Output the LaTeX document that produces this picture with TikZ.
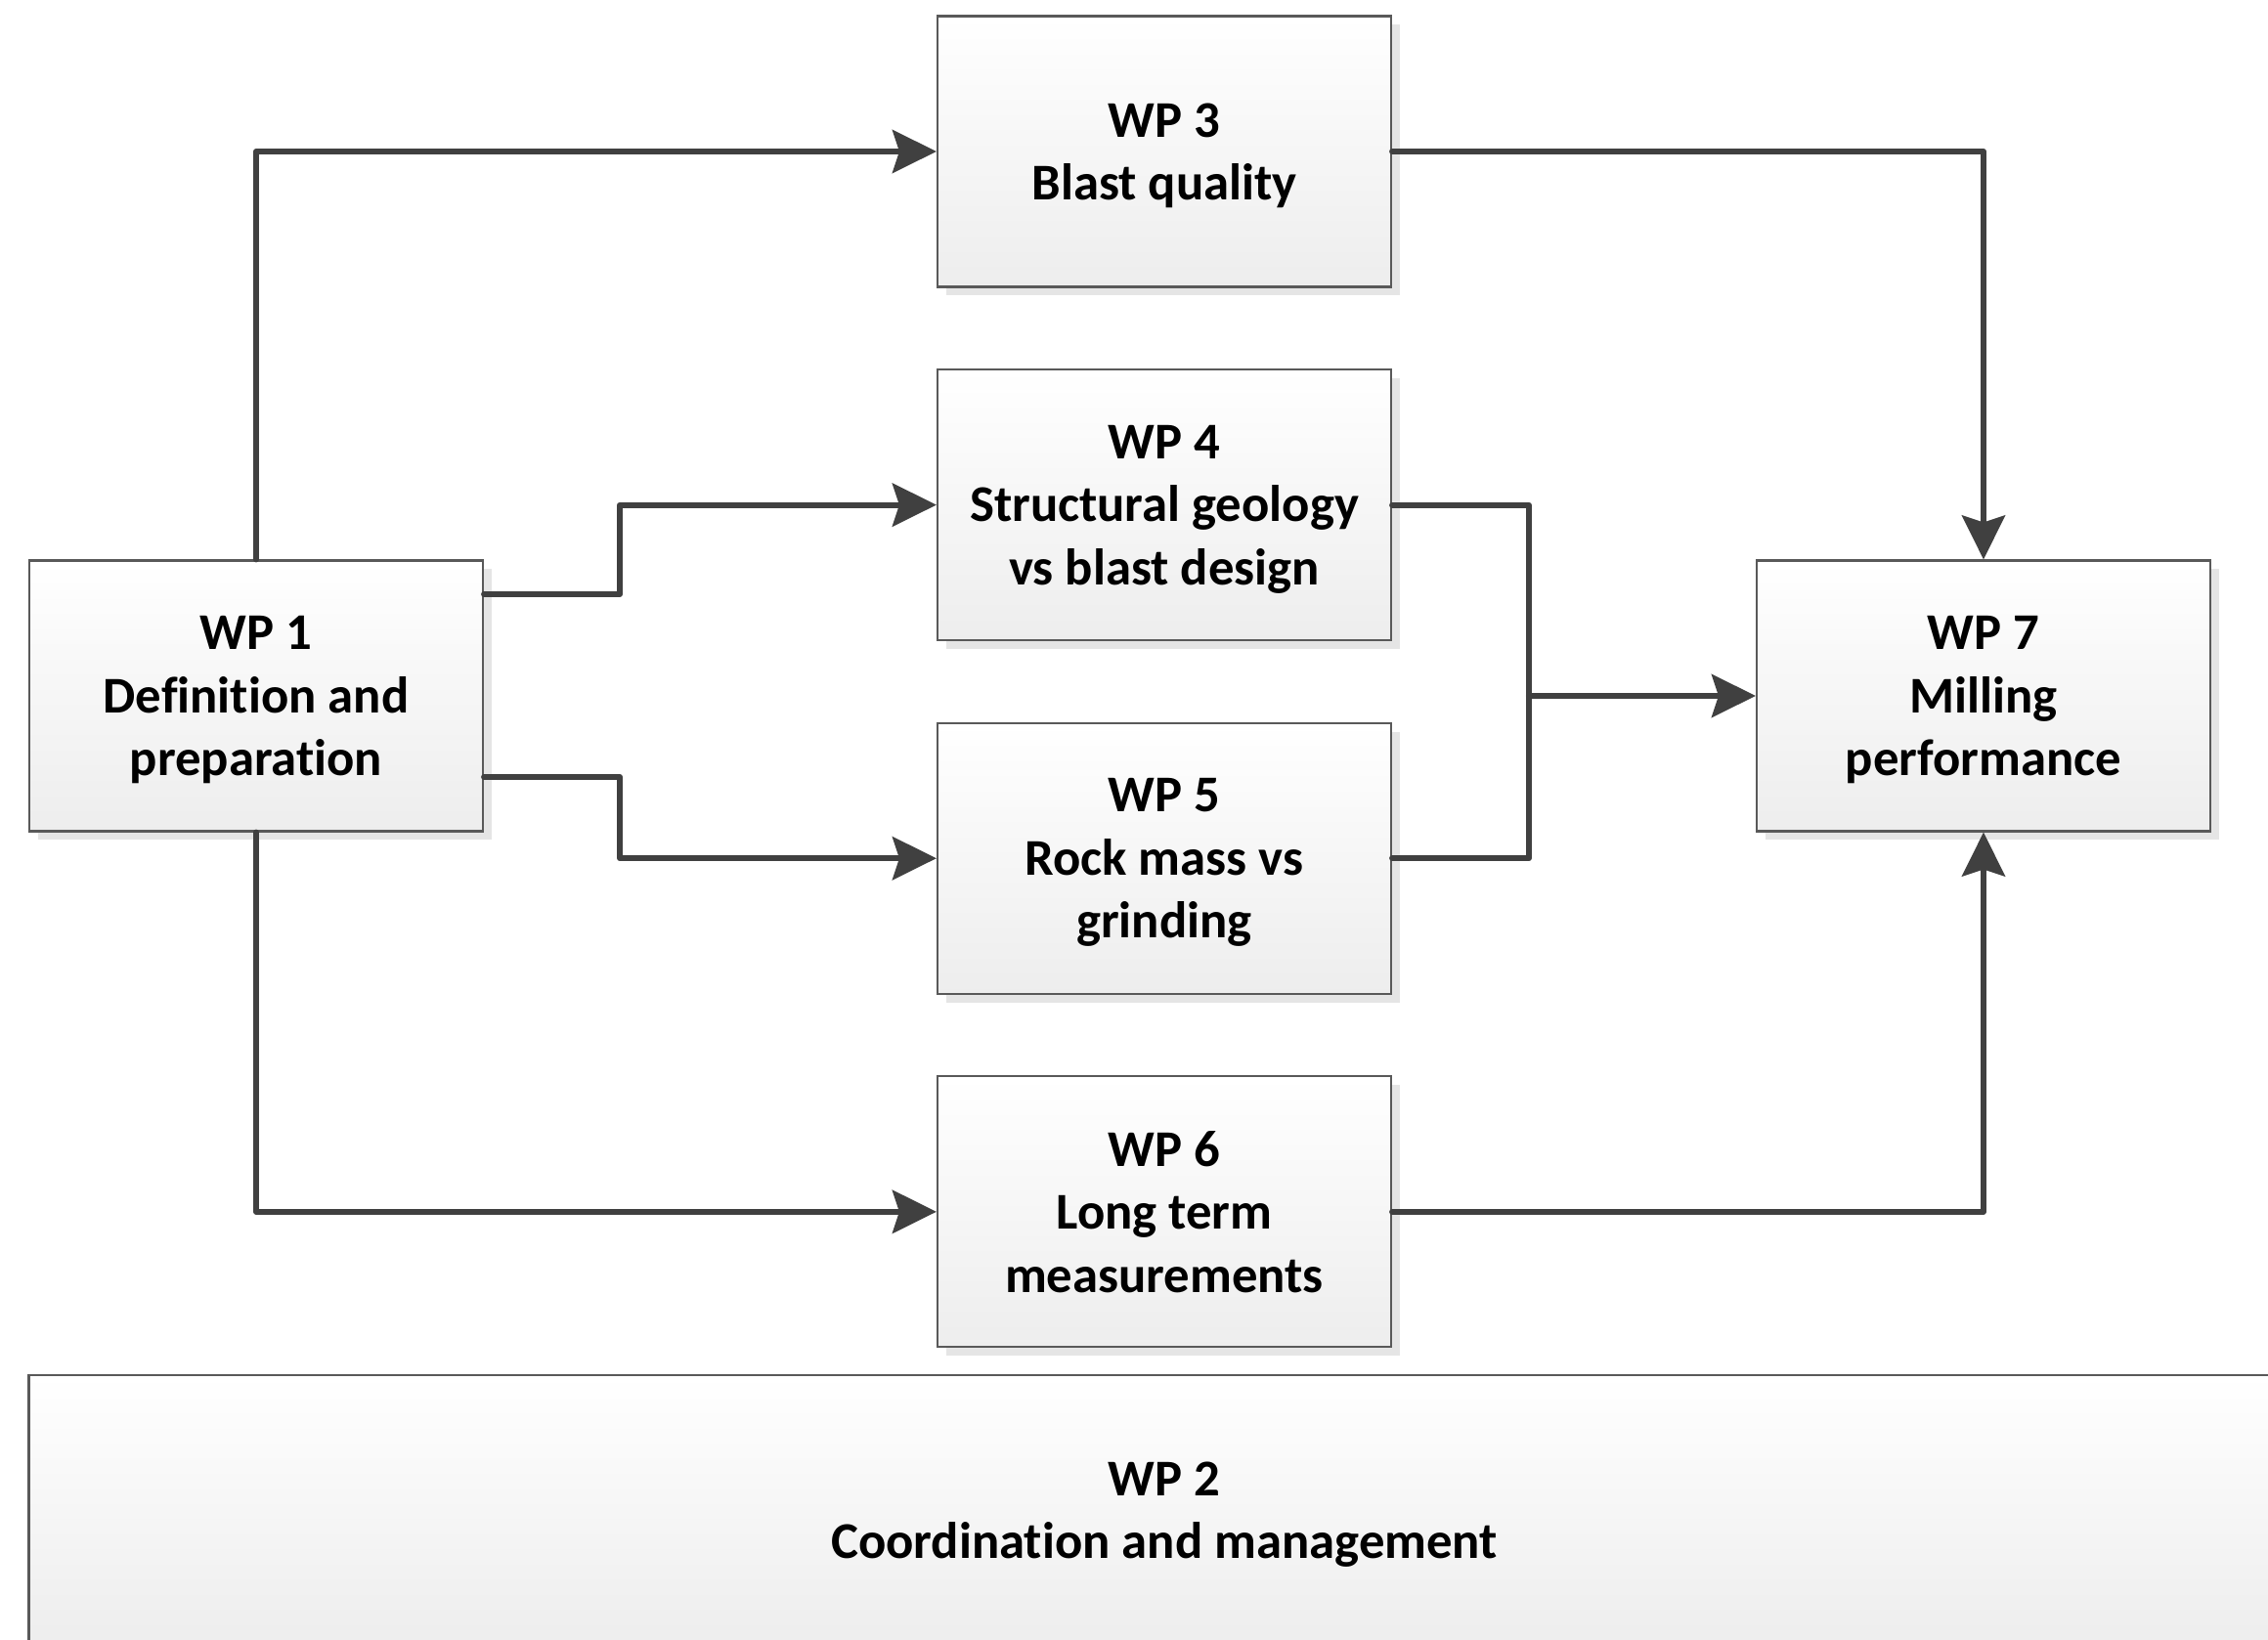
\documentclass[tikz,border=0pt]{standalone}
\usepackage{fontspec}
\setmainfont{Carlito}[Ligatures=NoCommon]
\usetikzlibrary{arrows.meta, positioning, shadows}
\tikzset{
    wp/.style = {rectangle, draw=black!65, line width=0.6pt, top color=white, bottom color=black!7, minimum width=4.64cm, minimum height=2.77cm, align=center, text depth=0pt, font=\fontsize{15}{18.3}\selectfont\bfseries, drop shadow={shadow xshift=0.09cm, shadow yshift=-0.09cm, fill=black!10, opacity=1}},
    link/.style = {line width=1.7pt, draw=black!75, line cap=round, line join=round},
    arrow/.style = {link, -{Stealth[length=0.45cm, width=0.44cm, inset=0.07cm]}}
}
\begin{document}
\begin{tikzpicture}
        \useasboundingbox (0,0) rectangle (23.2,-16.78);

        % Work packages
        \node (wp1) [wp] at (2.62,-7.12) {WP 1\\Definition and\\preparation};
        \node (wp3) [wp] at (11.91,-1.55) {WP 3\\Blast quality};
        \node (wp4) [wp, below=0.825cm of wp3] {WP 4\\Structural geology\\vs blast design};
        \node (wp5) [wp, below=0.825cm of wp4] {WP 5\\Rock mass vs\\grinding};
        \node (wp6) [wp, below=0.825cm of wp5] {WP 6\\Long term\\measurements};
        \node (wp7) [wp] at (20.29,-7.12) {WP 7\\Milling\\performance};

        % Management (runs off the page)
        \node (wp2) [wp, below=0.265cm of wp6, minimum width=23.23cm, minimum height=2.76cm] {WP 2\\Coordination and management};

        % Junction of WP 4 and WP 5
        \coordinate [left=2.32cm of wp7.west] (join);

        % From WP 1
        \draw [arrow] (wp1.north) |- (wp3.west);
        \draw [arrow] ([yshift=1.04cm]wp1.east) -- ++(1.39,0) |- (wp4.west);
        \draw [arrow] ([yshift=-0.83cm]wp1.east) -- ++(1.39,0) |- (wp5.west);
        \draw [arrow] (wp1.south) |- (wp6.west);

        % Into WP 7
        \draw [arrow] (wp3.east) -| (wp7.north);
        \draw [link] (wp4.east) -| (join);
        \draw [link] (wp5.east) -| (join);
        \draw [arrow] (join) -- (wp7.west);
        \draw [arrow] (wp6.east) -| (wp7.south);
    \end{tikzpicture}
\end{document}
